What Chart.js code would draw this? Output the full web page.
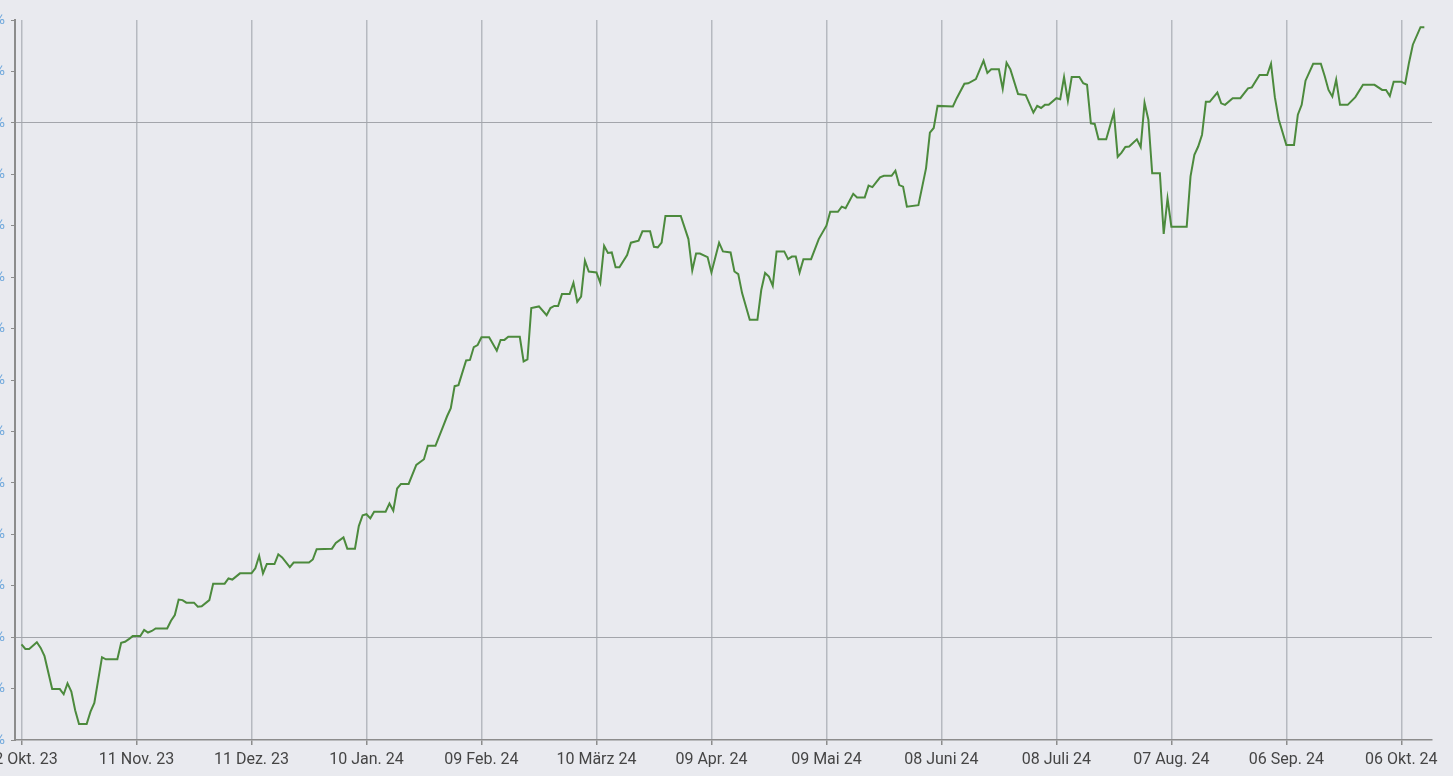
<!DOCTYPE html>
<html lang="de">
<head>
  <meta charset="UTF-8" />
  <title>Wertentwicklung</title>
  <style>
    html, body {
      margin: 0;
      padding: 0;
      width: 1453px;
      height: 776px;
      overflow: hidden;
      background-color: #e9eaef;
      font-family: Roboto, 'Noto Sans', sans-serif;
    }
    .chart-box {
      position: absolute;
      left: -60px;
      top: 0;
      width: 1513px;
      height: 776px;
    }
  </style>
</head>
<body>
  <div class="chart-box">
    <canvas id="perfChart"></canvas>
  </div>

  <script src="https://cdn.jsdelivr.net/npm/chart.js@4.4.1/dist/chart.umd.min.js"></script>
  <script>
    // Tage seit 12.10.2023 und Wertentwicklung in %
    const days = [
      0, 1, 2, 4, 5, 6, 8, 10, 11, 12,
      13, 14, 15, 17, 18, 19, 21, 22, 25, 26,
      27, 28, 29, 31, 32, 33, 34, 35, 38, 39,
      40, 41, 42, 43, 45, 46, 47, 49, 50, 53,
      54, 55, 57, 60, 61, 62, 63, 64, 66, 67,
      68, 70, 71, 75, 76, 77, 81, 82, 84, 85,
      87, 88, 89, 90, 91, 92, 95, 96, 97, 98,
      99, 101, 103, 105, 106, 108, 110, 111, 112, 113,
      114, 116, 117, 118, 119, 120, 122, 124, 125, 126,
      127, 130, 131, 132, 133, 135, 137, 138, 139, 140,
      141, 143, 144, 145, 146, 147, 148, 150, 151, 152,
      153, 154, 155, 156, 158, 159, 161, 162, 164, 165,
      166, 167, 168, 172, 174, 175, 176, 177, 179, 180,
      182, 183, 185, 186, 187, 188, 190, 192, 193, 194,
      195, 196, 197, 199, 200, 201, 202, 203, 204, 206,
      208, 210, 211, 213, 214, 215, 217, 218, 220, 221,
      222, 224, 225, 227, 228, 229, 230, 231, 234, 236,
      237, 238, 239, 243, 244, 246, 247, 249, 251, 252,
      253, 255, 256, 257, 258, 260, 262, 264, 265, 266,
      267, 268, 270, 271, 272, 273, 274, 276, 277, 278,
      279, 280, 281, 283, 285, 286, 287, 288, 289, 291,
      292, 293, 294, 295, 297, 298, 299, 300, 304, 305,
      306, 307, 308, 309, 310, 312, 313, 314, 316, 318,
      320, 321, 323, 325, 326, 327, 328, 330, 332, 333,
      334, 335, 337, 339, 340, 341, 342, 343, 344, 346,
      348, 350, 353, 355, 356, 357, 358, 360, 361, 362,
      363, 365, 366
    ];

    const values = [
      -1.4, -2.3, -2.3, -1.0, -2.1, -3.7, -10.1, -10.1, -11.1, -9.0,
      -10.6, -14.2, -16.9, -16.9, -14.5, -12.8, -3.9, -4.3, -4.3, -1.1,
      -0.9, -0.4, 0.2, 0.2, 1.4, 0.9, 1.2, 1.7, 1.7, 3.2,
      4.3, 7.3, 7.2, 6.7, 6.7, 5.9, 6.0, 7.2, 10.4, 10.4,
      11.4, 11.2, 12.4, 12.4, 13.4, 15.8, 12.4, 14.2, 14.2, 16.1,
      15.5, 13.6, 14.5, 14.5, 15.1, 17.1, 17.2, 18.3, 19.4, 17.2,
      17.2, 21.6, 23.7, 23.9, 23.1, 24.4, 24.4, 26.0, 24.6, 28.9,
      29.8, 29.8, 33.5, 34.6, 37.2, 37.2, 41.0, 42.9, 44.5, 48.8,
      49.0, 53.8, 53.9, 56.4, 56.8, 58.3, 58.3, 55.7, 57.8, 57.8,
      58.4, 58.4, 53.6, 54.0, 64.0, 64.3, 62.6, 64.0, 64.4, 64.4,
      66.7, 66.7, 68.9, 65.2, 66.2, 73.2, 71.1, 70.9, 68.9, 76.1,
      74.7, 74.8, 71.9, 71.9, 74.3, 76.7, 77.1, 78.9, 78.9, 75.9,
      75.8, 76.7, 81.9, 81.9, 77.4, 71.3, 74.6, 74.6, 73.9, 70.9,
      76.7, 75.0, 74.8, 71.1, 70.6, 66.9, 61.7, 61.7, 67.5, 70.8,
      70.1, 68.3, 75.0, 75.0, 73.5, 74.0, 74.0, 70.9, 73.5, 73.5,
      77.4, 80.0, 82.7, 82.7, 83.7, 83.4, 86.2, 85.5, 85.5, 87.8,
      87.5, 89.4, 89.7, 89.7, 90.7, 87.9, 87.6, 83.7, 84.0, 91.2,
      98.1, 99.0, 103.3, 103.2, 104.8, 107.6, 107.7, 108.5, 112.1, 109.7,
      110.4, 110.4, 106.6, 111.7, 110.4, 105.6, 105.4, 102.0, 103.3, 102.9,
      103.5, 103.5, 104.8, 104.6, 108.9, 104.3, 108.9, 108.9, 107.7, 107.4,
      99.9, 99.8, 96.8, 96.8, 102.0, 93.4, 94.2, 95.3, 95.4, 96.8,
      95.3, 103.9, 100.6, 90.2, 90.2, 78.4, 85.3, 79.8, 79.8, 89.6,
      93.8, 95.4, 97.7, 104.1, 104.1, 105.9, 103.8, 103.5, 104.8, 104.8,
      106.7, 106.9, 109.3, 109.3, 111.5, 105.0, 100.7, 95.7, 95.7, 101.6,
      103.5, 108.2, 111.5, 111.5, 109.1, 106.4, 105.1, 108.4, 103.5, 103.5,
      105.0, 107.4, 107.4, 106.4, 106.4, 105.2, 108.0, 108.0, 107.6, 111.7,
      115.2, 118.6, 118.6
    ];

    const tickDays = [0, 30, 60, 90, 120, 150, 180, 210, 240, 270, 300, 330, 360];
    const tickLabels = [
      '12 Okt. 23', '11 Nov. 23', '11 Dez. 23', '10 Jan. 24', '09 Feb. 24',
      '10 März 24', '09 Apr. 24', '09 Mai 24', '08 Juni 24', '08 Juli 24',
      '07 Aug. 24', '06 Sep. 24', '06 Okt. 24'
    ];

    const points = days.map((d, i) => ({ x: d, y: values[i] }));

    const ctx = document.getElementById('perfChart').getContext('2d');
    new Chart(ctx, {
      type: 'line',
      data: {
        datasets: [{
          label: 'Wertentwicklung',
          data: points,
          borderColor: '#4c8a3d',
          borderWidth: 2,
          pointRadius: 0,
          tension: 0,
          fill: false
        }]
      },
      options: {
        responsive: true,
        maintainAspectRatio: false,
        animation: false,
        layout: {
          padding: { top: 20, right: 21, left: 0, bottom: 0 }
        },
        plugins: {
          legend: { display: false },
          tooltip: { enabled: false }
        },
        scales: {
          x: {
            type: 'linear',
            min: -1.7,
            max: 368,
            afterBuildTicks: (scale) => {
              scale.ticks = tickDays.map(v => ({ value: v }));
            },
            afterFit: (scale) => { scale.height = 36; },
            ticks: {
              autoSkip: false,
              maxRotation: 0,
              padding: 5,
              color: '#454545',
              font: { family: 'Roboto', size: 16 },
              callback: (value, index) => tickLabels[index]
            },
            grid: {
              color: '#b6b9c0',
              lineWidth: 1.5,
              tickLength: 5,
              tickColor: '#8c8c8c'
            },
            border: { display: true, color: '#8c8c8c', width: 1.5 }
          },
          y: {
            min: -20,
            max: 120,
            afterFit: (scale) => { scale.width = 75; },
            ticks: {
              stepSize: 10,
              padding: 6,
              color: '#6fa8dc',
              font: { family: 'Roboto', size: 15 },
              callback: (value) => value + ' %'
            },
            grid: {
              color: (c) => (c.tick && (c.tick.value === 0 || c.tick.value === 100)) ? '#a3a5ab' : 'rgba(0,0,0,0)',
              lineWidth: 1,
              tickLength: 4,
              tickColor: '#8c8c8c'
            },
            border: { display: true, color: '#8c8c8c', width: 2 }
          }
        }
      }
    });
  </script>
</body>
</html>
